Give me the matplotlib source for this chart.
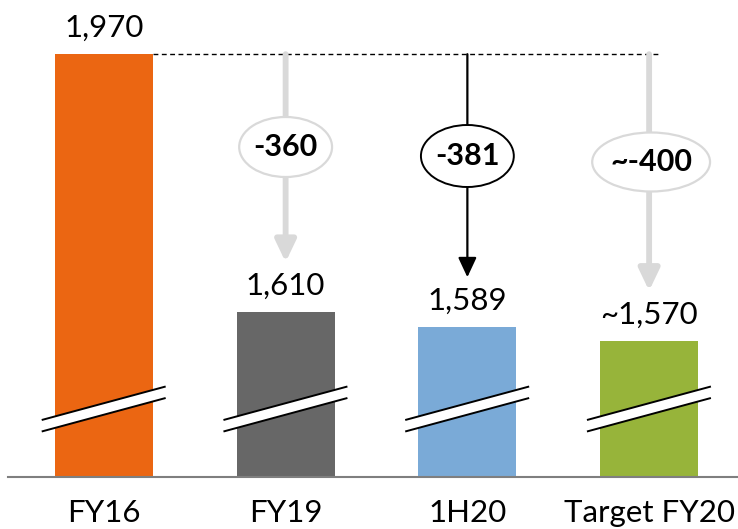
import numpy as np
import matplotlib
matplotlib.use('Agg')
import matplotlib.pyplot as plt
from matplotlib.patches import Ellipse, Polygon, FancyArrowPatch

categories = ['FY16', 'FY19', '1H20', 'Target FY20']
values = [1970, 1610, 1589, 1570]
value_labels = ['1,970', '1,610', '1,589', '~1,570']
bar_colors = ['#EB6612', '#676767', '#7AAAD7', '#97B43A']

# change vs FY16, shown for the later bars
change_labels = ['-360', '-381', '~-400']
change_dark = [False, True, False]

plt.rcParams['font.family'] = ['Lato', 'DejaVu Sans']

Y_MIN, Y_MAX = 1380, 2045.6
PX_Y = 477 / (Y_MAX - Y_MIN)   # pixels per data unit (vertical)
PX_X = 182.0                   # pixels per category step


def px_to_y(px):
    return px / PX_Y


fig = plt.figure(figsize=(7.38, 5.29), dpi=100)
ax = fig.add_axes([8 / 738, 1 - 477 / 529, 730 / 738, 477 / 529])

x = np.arange(len(categories))
bar_w = 0.54
ax.bar(x, values, width=bar_w, color=bar_colors, bottom=0, zorder=2)

for xi, v, lab in zip(x, values, value_labels):
    ax.annotate(lab, (xi, v), xytext=(0, 19), textcoords='offset points',
                ha='center', va='center', fontsize=22.5, color='black')

# axis break marks on every bar
brk_mid = Y_MIN + px_to_y(477 - 409)
brk_gap = px_to_y(11.5)
brk_rise = px_to_y(33.5)
for xi in x:
    x0, x1 = xi - 0.342, xi + 0.34
    lo0, lo1 = brk_mid - brk_rise / 2, brk_mid + brk_rise / 2
    band = Polygon([[x0, lo0 - brk_gap / 2], [x1, lo1 - brk_gap / 2],
                    [x1, lo1 + brk_gap / 2], [x0, lo0 + brk_gap / 2]],
                   closed=True, facecolor='white', edgecolor='none', zorder=3)
    ax.add_patch(band)
    for s in (-1, 1):
        ax.plot([x0, x1], [lo0 + s * brk_gap / 2, lo1 + s * brk_gap / 2],
                color='black', lw=1.4, zorder=4, solid_capstyle='butt')

# reference line at FY16 level
ax.plot([x[0] + bar_w / 2, x[-1] + 0.06], [values[0], values[0]],
        color='black', lw=1, dashes=(3.5, 2.5), zorder=1)

# arrows and change bubbles
ell_y = [Y_MIN + px_to_y(477 - 147), Y_MIN + px_to_y(477 - 156), Y_MIN + px_to_y(477 - 162)]
ell_w = [93 / PX_X, 93 / PX_X, 118 / PX_X]
ell_h = [px_to_y(60), px_to_y(62), px_to_y(59)]
ell_dx = [0, 0, 0.011]
for i, (lab, dark) in enumerate(zip(change_labels, change_dark)):
    xi = x[i + 1]
    tip = values[i + 1] + px_to_y(50)
    if dark:
        col, lw, hl, hw = 'black', 1.6, 12, 5.6
    else:
        col, lw, hl, hw = '#D9D9D9', 4.2, 13, 6.2
    arr = FancyArrowPatch((xi, values[0]), (xi, tip),
                          arrowstyle=f'-|>,head_length={hl},head_width={hw}',
                          mutation_scale=1, color=col, lw=lw,
                          shrinkA=0, shrinkB=0, zorder=1)
    ax.add_patch(arr)
    e = Ellipse((xi + ell_dx[i], ell_y[i]), ell_w[i], ell_h[i],
                facecolor='white', edgecolor=col, lw=1.4 if dark else 1.6, zorder=5)
    ax.add_patch(e)
    ax.text(xi + ell_dx[i], ell_y[i], lab, ha='center', va='center',
            fontsize=22, fontweight='bold', color='black', zorder=6)

ax.set_xlim(-96 / PX_X, 3 + 89 / PX_X)
ax.set_ylim(Y_MIN, Y_MAX)
ax.set_xticks(x)
ax.set_xticklabels(categories, fontsize=22.5)
ax.set_yticks([])
ax.tick_params(axis='x', length=0, pad=16)
for side in ('top', 'right', 'left'):
    ax.spines[side].set_visible(False)
ax.spines['bottom'].set_color('#7F7F7F')
ax.spines['bottom'].set_linewidth(1.5)

fig.savefig('out.png', dpi=100)
